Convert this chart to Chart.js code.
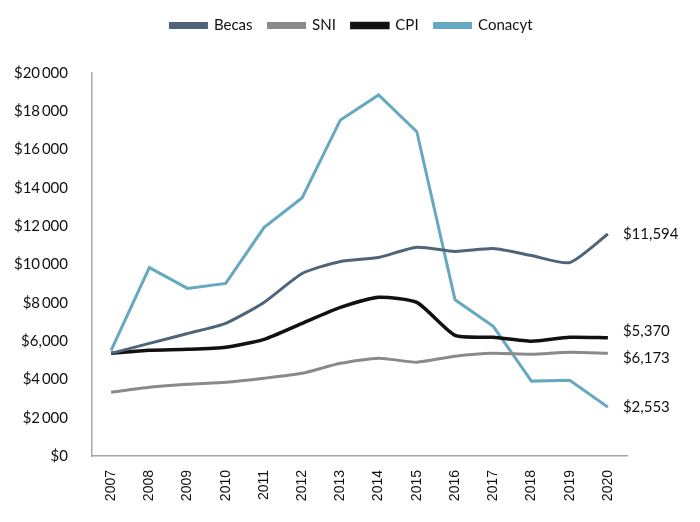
<!DOCTYPE html>
<html>
<head>
<meta charset="utf-8">
<script src="https://cdn.jsdelivr.net/npm/chart.js@4.4.1/dist/chart.umd.min.js"></script>
<style>
  html, body { margin: 0; padding: 0; background: #fff; }
  #wrap { width: 700px; height: 522px; }
</style>
</head>
<body>
<div id="wrap"><canvas id="grafica"></canvas></div>
<script>
// datos
var anios = ['2007', '2008', '2009', '2010', '2011', '2012', '2013', '2014', '2015', '2016', '2017', '2018', '2019', '2020'];
var becas = [5360, 5880, 6400, 6930, 8020, 9530, 10160, 10370, 10900, 10680, 10830, 10470, 10100, 11594];
var sni = [3330, 3590, 3750, 3850, 4060, 4320, 4840, 5110, 4900, 5210, 5360, 5310, 5420, 5370];
var cpi = [5360, 5520, 5570, 5680, 6090, 6930, 7760, 8290, 8020, 6300, 6200, 5990, 6200, 6173];
var conacyt = [5520, 9840, 8750, 9010, 11930, 13490, 17550, 18850, 16930, 8160, 6770, 3910, 3960, 2553];
var etiquetasY = ['$0', '$2\u2009000', '$4\u2009000', '$6,000', '$8\u2009000', '$10\u2009000', '$12\u2009000', '$14\u2009000', '$16\u2009000', '$18\u2009000', '$20\u2009000'];
var etiquetasFinal = ['$11,594', '$6,173', '$5,370', '$2,553'];

// espacio extra debajo de la leyenda y centrado sobre todo el ancho
var legendSpace = {
    id: 'legendSpace',
    beforeInit: function (chart) {
        var fitOrig = chart.legend.fit;
        chart.legend.fit = function () {
            fitOrig.bind(chart.legend)();
            this.height += 30;
        };
    },
    afterLayout: function (chart) {
        chart.legend.left += 38;
        chart.legend.right += 38;
    }
};

// etiquetas al final de cada serie
var finalLabels = {
    id: 'finalLabels',
    afterDatasetsDraw: function (chart) {
        var ctx = chart.ctx;
        var desp = [0, 5, -7, 0];
        ctx.save();
        ctx.font = '15px Lato';
        ctx.fillStyle = '#111';
        ctx.textBaseline = 'middle';
        ctx.textAlign = 'left';
        chart.data.datasets.forEach(function (ds, i) {
            var meta = chart.getDatasetMeta(i);
            var p = meta.data[meta.data.length - 1];
            ctx.fillText(etiquetasFinal[i], p.x + 15, p.y + desp[i]);
        });
        ctx.restore();
    }
};

var ctx = document.getElementById('grafica').getContext('2d');
var myChart = new Chart(ctx, {
    type: 'line',
    data: {
        labels: anios,
        datasets: [{
            label: 'Becas',
            data: becas,
            borderColor: '#4f6379',
            backgroundColor: '#4f6379',
            borderWidth: 3,
            tension: 0.2,
            pointRadius: 0
        }, {
            label: 'SNI',
            data: sni,
            borderColor: '#8a8a8a',
            backgroundColor: '#8a8a8a',
            borderWidth: 3,
            tension: 0.2,
            pointRadius: 0
        }, {
            label: 'CPI',
            data: cpi,
            borderColor: '#111111',
            backgroundColor: '#111111',
            borderWidth: 3.5,
            tension: 0.2,
            pointRadius: 0
        }, {
            label: 'Conacyt',
            data: conacyt,
            borderColor: '#67a8c1',
            backgroundColor: '#67a8c1',
            borderWidth: 3,
            tension: 0,
            pointRadius: 0
        }]
    },
    options: {
        responsive: true,
        maintainAspectRatio: false,
        animation: false,
        layout: {
            padding: { top: 2, right: 73, bottom: 0, left: 0 }
        },
        plugins: {
            legend: {
                position: 'top',
                labels: {
                    boxWidth: 36,
                    boxHeight: 4,
                    padding: 16,
                    color: '#111',
                    font: { family: 'Lato', size: 15 }
                }
            },
            tooltip: { enabled: false }
        },
        scales: {
            x: {
                offset: true,
                grid: { display: false },
                border: { display: true, color: '#a6a6a6', width: 1.5 },
                ticks: {
                    minRotation: 90,
                    maxRotation: 90,
                    color: '#111',
                    padding: 6,
                    font: { family: 'Liberation Sans', size: 14 }
                },
                afterFit: function (scale) { scale.height = 66; }
            },
            y: {
                min: 0,
                max: 20000,
                grid: { display: false },
                border: { display: true, color: '#a6a6a6', width: 1.5 },
                ticks: {
                    stepSize: 2000,
                    color: '#111',
                    padding: 16,
                    font: { family: 'Lato', size: 15 },
                    callback: function (value) { return etiquetasY[value / 2000]; }
                },
                afterFit: function (scale) { scale.width = 92; }
            }
        }
    },
    plugins: [legendSpace, finalLabels]
});
</script>
</body>
</html>
